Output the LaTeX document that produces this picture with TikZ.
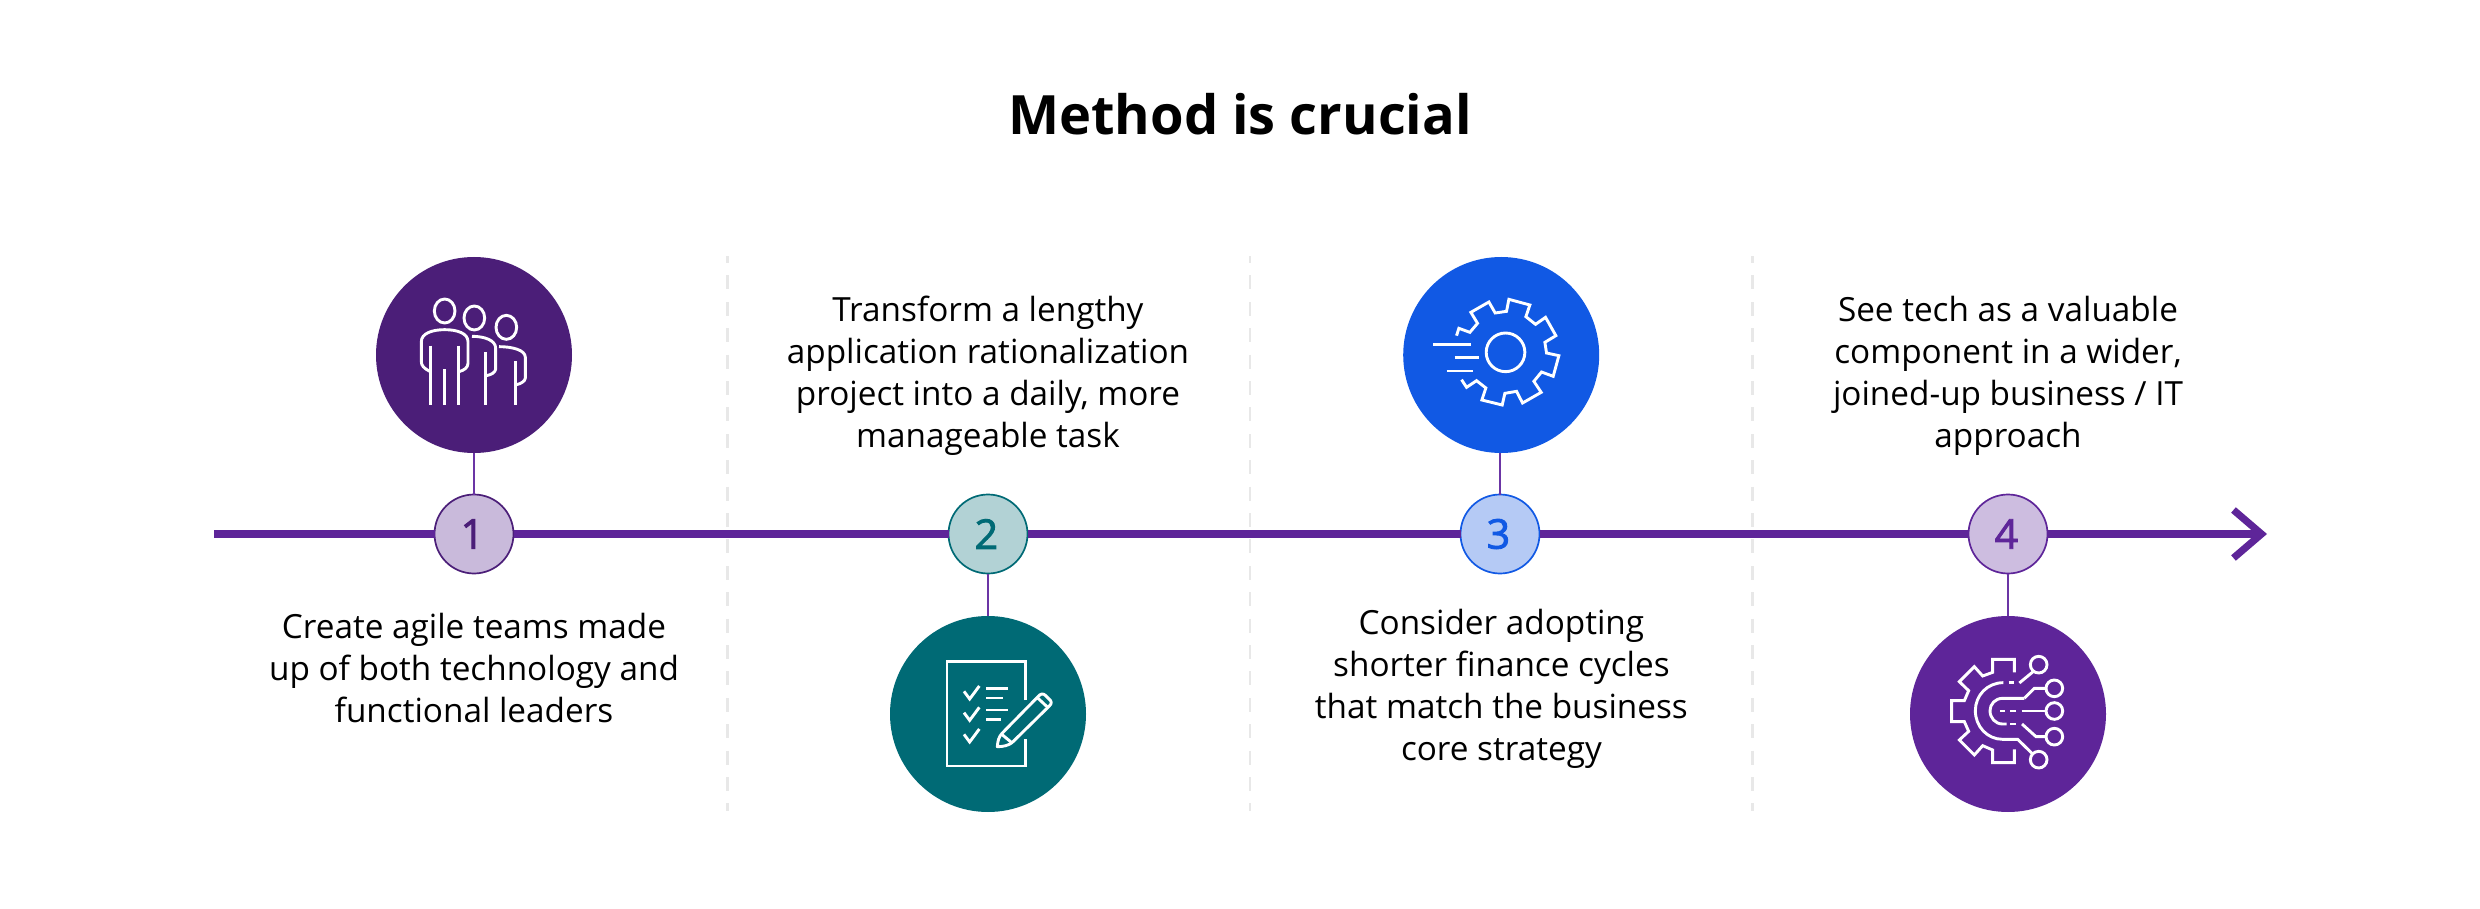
\documentclass[tikz,border=0pt]{standalone}
\usepackage{fontspec}
\setmainfont{Open Sans}
\newfontfamily\numfont[FakeBold=2.2]{Open Sans}
\usetikzlibrary{positioning,arrows.meta}
\definecolor{purpleA}{HTML}{4B1E78}
\definecolor{purpleB}{HTML}{5E2599}
\definecolor{purpleL}{HTML}{6B35A5}
\definecolor{lilacA}{HTML}{C9BADB}
\definecolor{lilacB}{HTML}{CDBDE0}
\definecolor{tealA}{HTML}{006A75}
\definecolor{tealL}{HTML}{B2D2D5}
\definecolor{blueA}{HTML}{1159E4}
\definecolor{blueL}{HTML}{B5CAF5}
\definecolor{sepgrey}{HTML}{E8E8E8}
\tikzset{
	bigdot/.style={circle,minimum size=98pt,inner sep=0pt,outer sep=0pt,fill=#1},
	numdot/.style n args={2}{circle,minimum size=39.5pt,inner sep=0pt,outer sep=0pt,draw=#1,line width=.85pt,fill=#2,text=#1,font=\fontsize{20.5}{24}\numfont,execute at end node=\kern1.6pt},
	steptext/.style={align=center,inner sep=0pt,font=\fontsize{16.65}{21}\selectfont},
	timeline/.style={draw=purpleB,line width=3.6pt,-{Straight Barb[length=14pt,width=24pt,line width=3.6pt]}},
	stem/.style={draw=purpleL,line width=.9pt},
	seprule/.style={draw=sepgrey,line width=1.1pt,dash pattern=on 7pt off 6.2pt,dash phase=3.5pt},
	iconline/.style={draw=white,line width=1.45pt},
	iconzoom/.style={shift={(#1.center)},x=.16667pt,y=-.16667pt}
}
\begin{document}
\begin{tikzpicture}[x=.5pt,y=-.5pt,on grid]
	\useasboundingbox (0,0) rectangle (2480,909);
	\node[font=\fontsize{27.1}{32}\selectfont\bfseries] (title) at (1240,114) {Method is crucial};

	\node[numdot={purpleA}{lilacA}] (num1) at (474,534) {1};
	\node[numdot={tealA}{tealL},right=257pt of num1] (num2) {2};
	\node[numdot={blueA}{blueL},right=256pt of num2] (num3) {3};
	\node[numdot={purpleB}{lilacB},right=254pt of num3] (num4) {4};

	\node[bigdot=purpleA,above=89.5pt of num1] (pic1) {};
	\node[bigdot=tealA,below=90pt of num2] (pic2) {};
	\node[bigdot=blueA,above=89.5pt of num3,xshift=.6pt] (pic3) {};
	\node[bigdot=purpleB,below=90pt of num4] (pic4) {};

	\node[steptext,below=67pt of num1] (text1) {Create agile teams made\\up of both technology and\\functional leaders};
	\node[steptext,above=79pt of num2] (text2) {Transform a lengthy\\application rationalization\\project into a daily, more\\manageable task};
	\node[steptext,below=77.5pt of num3,xshift=.7pt] (text3) {Consider adopting\\shorter finance cycles\\that match the business\\core strategy};
	\node[steptext,above=79pt of num4] (text4) {See tech as a valuable\\component in a wider,\\joined-up business / IT\\approach};

	\coordinate (sep1a) at (727.5,256);
	\coordinate (sep1b) at (727.5,811);
	\coordinate (sep2a) at (1250,256);
	\coordinate (sep2b) at (1250,811);
	\coordinate (sep3a) at (1752.5,256);
	\coordinate (sep3b) at (1752.5,811);
	\draw[seprule] (sep1a) -- (sep1b);
	\draw[seprule] (sep2a) -- (sep2b);
	\draw[seprule] (sep3a) -- (sep3b);

	\coordinate (start) at (214,534);
	\coordinate (tip) at (2267,534);
	\draw[timeline] (start) -- (num1) -- (num2) -- (num3) -- (num4) -- (tip);

	\draw[stem] (pic1) -- (num1);
	\draw[stem] (pic2) -- (num2);
	\draw[stem] (pic3.south -| num3) -- (num3);
	\draw[stem] (pic4) -- (num4);

	\begin{scope}[iconzoom=pic1,iconline]
		\draw (-88,-132) ellipse (31 and 36);
		\draw (1,-111) ellipse (31 and 36);
		\draw (97,-83) ellipse (31 and 36);
		\draw (-133,49) .. controls (-150,40) and (-158,32) .. (-158,20) -- (-158,-40) .. controls (-158,-65) and (-125,-76) .. (-88,-76) .. controls (-50,-76) and (-18,-65) .. (-18,-40) -- (-18,25) .. controls (-18,38) and (-30,46) .. (-45,50);
		\draw (-130,-28) -- (-130,150);
		\draw (-89,42) -- (-89,150);
		\draw (-47,-28) -- (-47,150);
		\draw (-6,-56) .. controls (30,-56) and (65,-45) .. (65,-20) -- (65,42) .. controls (65,52) and (50,60) .. (37,62);
		\draw (35,-8) -- (35,150);
		\draw (75,-25) .. controls (115,-25) and (154,-15) .. (154,7) -- (154,69) .. controls (154,78) and (140,87) .. (127,89);
		\draw (125,19) -- (125,150);
	\end{scope}

	\begin{scope}[iconzoom=pic2,iconline]
		\draw (112,-42) -- (112,-157) -- (-123,-157) -- (-123,156) -- (112,156) -- (112,75);
		\draw (-72,-68) -- (-55,-45) -- (-26,-84);
		\draw (-72,-4) -- (-55,19) -- (-26,-20);
		\draw (-72,61) -- (-55,84) -- (-26,45);
		\draw (-5,-77) -- (59,-77);
		\draw (-5,-48) -- (45,-48);
		\draw (-5,-12) -- (59,-12);
		\draw (-5,17) -- (38,17);
		\draw[line join=round] (28,98) .. controls (29,80) and (33,68) .. (42,58) -- (150,-52) .. controls (158,-62) and (165,-62) .. (172,-56) -- (182,-46) .. controls (192,-38) and (192,-32) .. (184,-24) -- (72,86) .. controls (60,95) and (45,98) .. (28,98) -- cycle;
		\draw (147,-50) -- (177,-22);
		\draw (40,60) -- (70,85);
	\end{scope}

	\begin{scope}[iconzoom=pic3,iconline]
		\draw (-204,-32) -- (-92,-32);
		\draw (-140,8) -- (-68,8);
		\draw (-164,48) -- (-84,48);
		\draw (13,-8) circle (58);
		\draw (-134,-58) -- (-127,-80) -- (-94,-68) -- (-71,-95) -- (-91,-128) -- (-37,-159) -- (-18,-126) -- (16,-131) -- (23,-167) -- (86,-150) -- (74,-115) -- (103,-92) -- (133,-113) -- (164,-58) -- (131,-38) -- (136,-6) -- (173,2) -- (156,64) -- (121,51) -- (98,79) -- (120,112) -- (64,144) -- (46,109) -- (11,115) -- (3,150) -- (-58,135) -- (-46,99) -- (-74,77) -- (-104,97) -- (-119,74);
	\end{scope}

	\begin{scope}[iconzoom=pic4,iconline]
		\draw (19,-125) -- (19,-164) -- (-46,-164) -- (-46,-125) -- (-76,-114) -- (-101,-142) -- (-146,-97) -- (-118,-70) -- (-131,-40) -- (-169,-40) -- (-169,23) -- (-131,23) -- (-118,52) -- (-146,78) -- (-101,123) -- (-76,95) -- (-46,108) -- (-46,146) -- (19,146) -- (19,106);
		\draw (-14,-94) .. controls (-62,-94) and (-98,-56) .. (-98,-10) .. controls (-98,38) and (-62,76) .. (-16,76) -- (29,76) -- (74,120);
		\draw (2,-94) -- (17,-94);
		\draw (34,-93) -- (79,-130);
		\draw (49,-47) -- (-16,-47) .. controls (-38,-47) and (-54,-30) .. (-54,-10) .. controls (-54,12) and (-38,30) .. (-16,30) -- (-4,30);
		\draw (7,30) -- (24,30);
		\draw (42,30) -- (84,68) -- (114,68);
		\draw (49,-47) -- (79,-77) -- (114,-77);
		\draw (-23,-9) -- (-8,-9);
		\draw (7,-9) -- (24,-9);
		\draw (41,-9) -- (114,-9);
		\draw (92,-148) circle (25);
		\draw (139,-77) circle (25);
		\draw (139,-9) circle (25);
		\draw (139,68) circle (25);
		\draw (92,137) circle (25);
	\end{scope}
\end{tikzpicture}
\end{document}
